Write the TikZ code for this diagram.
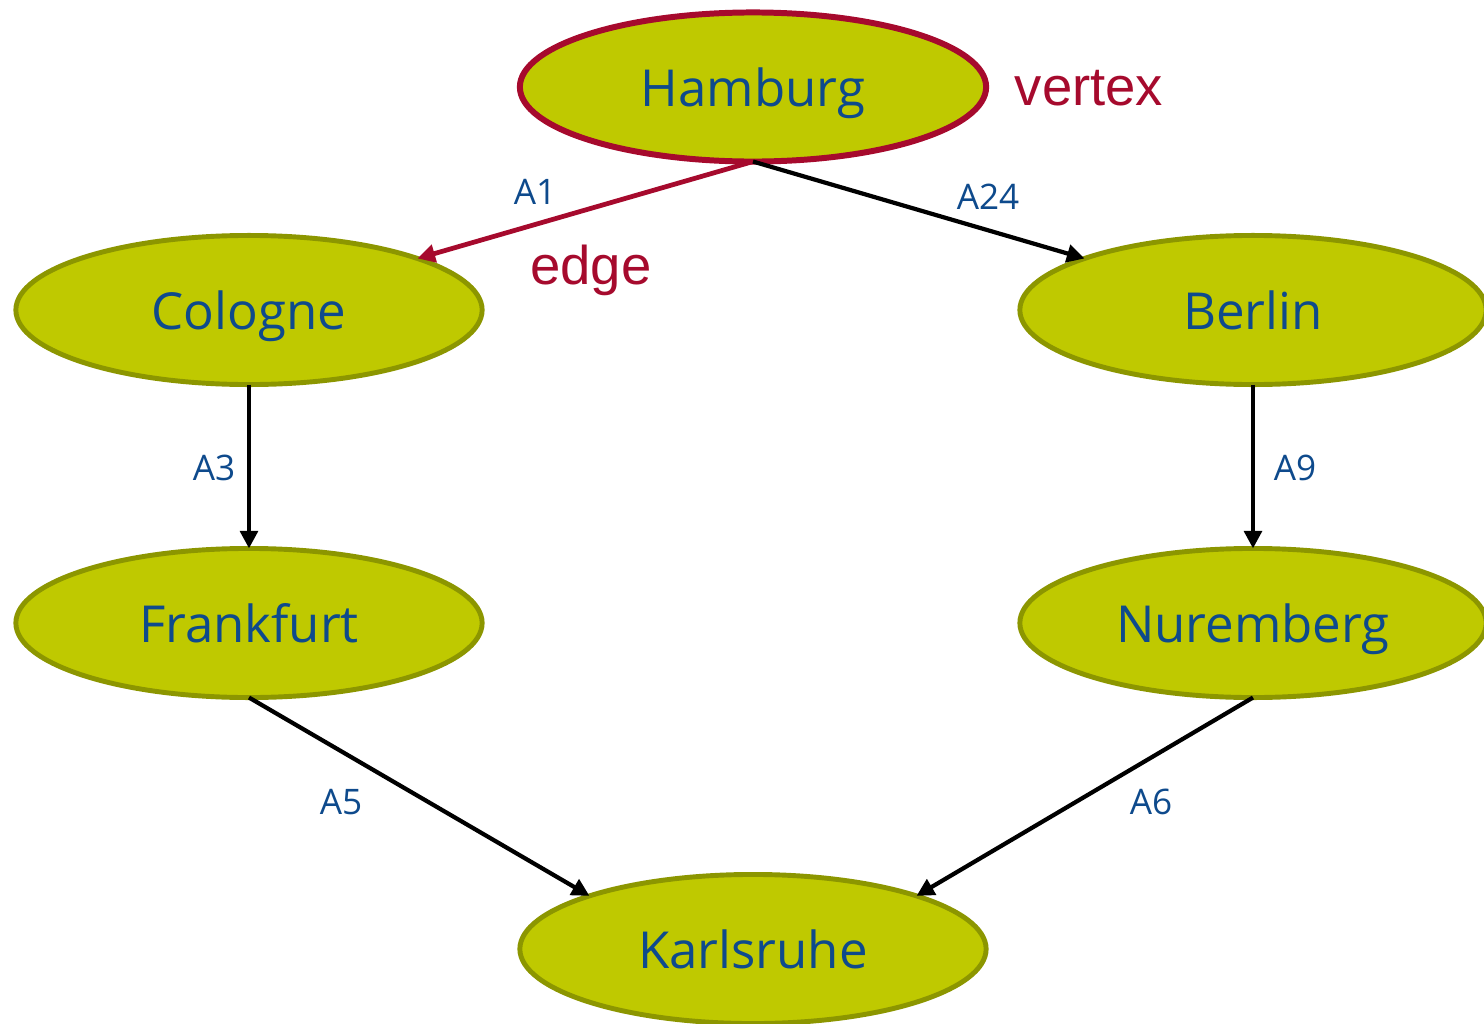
\documentclass[tikz,border=0pt]{standalone}
\usepackage{fontspec}
\setmainfont{Open Sans}
\newfontfamily\arialfont{Liberation Sans}
\usetikzlibrary{arrows.meta,shapes.geometric}
\definecolor{cityfill}{RGB}{191,201,0}
\definecolor{cityline}{RGB}{140,150,0}
\definecolor{hlred}{RGB}{166,10,45}
\definecolor{cityblue}{RGB}{14,74,140}
\tikzset{
  city/.style={ellipse, fill=cityfill, draw=cityline, line width=1.4pt,
    minimum width=4.66cm, minimum height=1.49cm, inner sep=0pt, outer sep=0pt,
    text=cityblue, text depth=0pt, font=\fontsize{14.5}{17}\selectfont},
  road/.style={line width=1.2pt, -{Triangle[length=5pt,width=5pt]}},
  roadlabel/.style={text=cityblue, font=\fontsize{10}{12}\selectfont, inner sep=0pt},
  term/.style={text=hlred, font=\arialfont\fontsize{15.5}{18}\selectfont, inner sep=0pt}
}
\begin{document}
\begin{tikzpicture}[x=0.01cm, y=-0.01cm]
  \useasboundingbox (0,0) rectangle (1484,1024);
  \begin{scope}
    \clip (0,0) rectangle (1484,1024);
    % cities
    \node[city, draw=hlred, line width=1.7pt] (ham) at (753,87) {Hamburg};
    \node[city] (col) at (249,310) {Cologne};
    \node[city] (ber) at (1253,310) {Berlin};
    \node[city] (fra) at (249,623) {Frankfurt};
    \node[city] (nur) at (1253,623) {Nuremberg};
    \node[city] (kar) at (753,949) {Karlsruhe};
  \end{scope}
  % motorways
  \draw[road, draw=hlred, fill=hlred, line width=1.35pt] (ham.south) -- (col.17);
  \draw[road] (ham.south) -- (ber.163);
  \draw[road] (col.south) -- (fra.north);
  \draw[road] (ber.south) -- (nur.north);
  \draw[road] (fra.south) -- (kar.162);
  \draw[road] (nur.south) -- (kar.18);
  % road labels
  \node[roadlabel] (la1) at (535,192) {A1};
  \node[roadlabel] (la24) at (988,197) {A24};
  \node[roadlabel] (la3) at (214,468) {A3};
  \node[roadlabel] (la9) at (1295,468) {A9};
  \node[roadlabel] (la5) at (341,802) {A5};
  \node[roadlabel] (la6) at (1151,802) {A6};
  % terms
  \node[term] (tvertex) at (1089,88) {vertex};
  \node[term] (tedge) at (591,270) {edge};
\end{tikzpicture}
\end{document}
